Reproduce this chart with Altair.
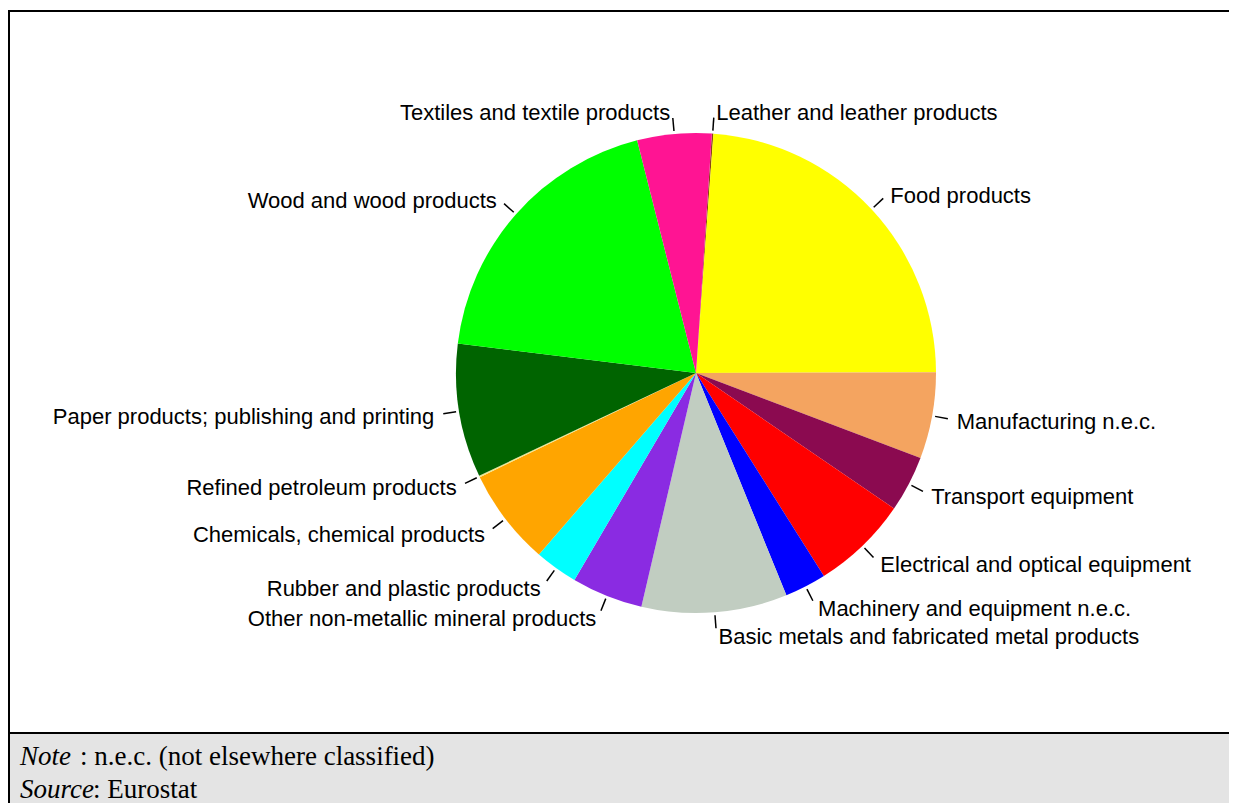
import math
import altair as alt
import pandas as pd

# ---- data (clockwise from the top of the pie) ----
categories = [
    "Leather and leather products",
    "Food products",
    "Manufacturing n.e.c.",
    "Transport equipment",
    "Electrical and optical equipment",
    "Machinery and equipment n.e.c.",
    "Basic metals and fabricated metal products",
    "Other non-metallic mineral products",
    "Rubber and plastic products",
    "Chemicals, chemical products",
    "Refined petroleum products",
    "Paper products; publishing and printing",
    "Wood and wood products",
    "Textiles and textile products",
]
shares = [0.1, 23.8, 5.8, 3.8, 6.5, 2.8, 9.8, 4.8, 2.9, 6.5, 0.1, 9.0, 19.1, 5.0]
colors = [
    "#8B4513", "#FFFF00", "#F4A460", "#8B0A50", "#FF0000", "#0000FF", "#C1CDC1",
    "#8A2BE2", "#00FFFF", "#FFA500", "#F0E68C", "#006400", "#00FF00", "#FF1493",
]
note_italic = ["Note", "Source"]
note_rest = [": n.e.c. (not elsewhere classified)", ": Eurostat"]

df = pd.DataFrame({"category": categories, "share": shares, "order": list(range(len(categories)))})

# ---- layout constants ----
W, H = 1220, 792          # plot area (page origin of plot = (9, 11))
CX, CY = 687, 362         # pie centre
R = 240                   # pie radius
R_T1, R_T2 = 243, 256     # leader tick radii
R_L = 263                 # label radius
START = 3.8 * math.pi / 180
BAND_Y = 722
LABEL_FONT = "Liberation Sans"
LABEL_SIZE = 22

pie = alt.Chart(df).mark_arc(radius=R, stroke=None).encode(
    theta=alt.Theta("share:Q", stack=True,
                    scale=alt.Scale(range=[START, START + 2 * math.pi])),
    color=alt.Color("category:N", scale=alt.Scale(domain=categories, range=colors), legend=None),
    order=alt.Order("order:Q"),
    x=alt.value(CX),
    y=alt.value(CY),
)

geo = (
    alt.Chart(df)
    .transform_window(cum="sum(share)", sort=[alt.SortField("order")], frame=[None, 0])
    .transform_joinaggregate(total="sum(share)")
    .transform_calculate(
        ang=f"{START} + 2*PI*(datum.cum - datum.share/2)/datum.total",
    )
    .transform_calculate(
        tx1=f"{CX} + {R_T1}*sin(datum.ang)",
        ty1=f"{CY} - {R_T1}*cos(datum.ang)",
        tx2=f"{CX} + {R_T2}*sin(datum.ang)",
        ty2=f"{CY} - {R_T2}*cos(datum.ang)",
        lx=f"{CX} + {R_L}*sin(datum.ang)",
        ly=f"{CY} - {R_L}*cos(datum.ang) + 2",
        right="sin(datum.ang) >= 0 ? 1 : 0",
    )
)

ticks = geo.mark_rule(color="black", strokeWidth=1.5).encode(
    x=alt.X("tx1:Q", scale=None, axis=None),
    y=alt.Y("ty1:Q", scale=None, axis=None),
    x2="tx2:Q",
    y2="ty2:Q",
)

labels_r = geo.transform_filter("datum.right == 1").mark_text(
    align="left", baseline="middle", font=LABEL_FONT, fontSize=LABEL_SIZE, color="black", dx=2
).encode(
    x=alt.X("lx:Q", scale=None, axis=None),
    y=alt.Y("ly:Q", scale=None, axis=None),
    text="category:N",
)

labels_l = geo.transform_filter("datum.right == 0").mark_text(
    align="right", baseline="middle", font=LABEL_FONT, fontSize=LABEL_SIZE, color="black", dx=-2
).encode(
    x=alt.X("lx:Q", scale=None, axis=None),
    y=alt.Y("ly:Q", scale=None, axis=None),
    text="category:N",
)

one = pd.DataFrame({"k": [0]})

band = alt.Chart(one).mark_rect(color="#E4E4E4").encode(
    x=alt.value(0), x2=alt.value(W), y=alt.value(BAND_Y), y2=alt.value(H)
)
sep = alt.Chart(one).mark_rule(color="black", strokeWidth=2).encode(
    x=alt.value(0), x2=alt.value(W), y=alt.value(BAND_Y)
)
top_border = alt.Chart(one).mark_rule(color="black", strokeWidth=2).encode(
    x=alt.value(0), x2=alt.value(W), y=alt.value(0)
)
left_border = alt.Chart(one).mark_rule(color="black", strokeWidth=2).encode(
    x=alt.value(0), y=alt.value(-1), y2=alt.value(H)
)

notes = pd.DataFrame({"it": note_italic, "rest": note_rest})
notes = notes.assign(ny=[746, 779], rx=[71, 84])

note_it = alt.Chart(notes).mark_text(
    align="left", baseline="middle", font="Liberation Serif", fontStyle="italic",
    fontSize=27, color="black"
).encode(x=alt.value(11), y=alt.Y("ny:Q", scale=None, axis=None), text="it:N")

note_rg = alt.Chart(notes).mark_text(
    align="left", baseline="middle", font="Liberation Serif", fontSize=27, color="black"
).encode(x=alt.X("rx:Q", scale=None, axis=None), y=alt.Y("ny:Q", scale=None, axis=None), text="rest:N")

chart = (
    alt.layer(band, sep, top_border, left_border, pie, ticks, labels_r, labels_l, note_it, note_rg)
    .properties(
        width=W, height=H,
        autosize=alt.AutoSizeParams(type="none"),
        padding={"left": 1, "top": 3, "right": 0, "bottom": 0},
        background="white",
    )
    .configure_view(stroke=None)
)

chart.save("out.html", embed_options={"renderer": "svg", "actions": False})
